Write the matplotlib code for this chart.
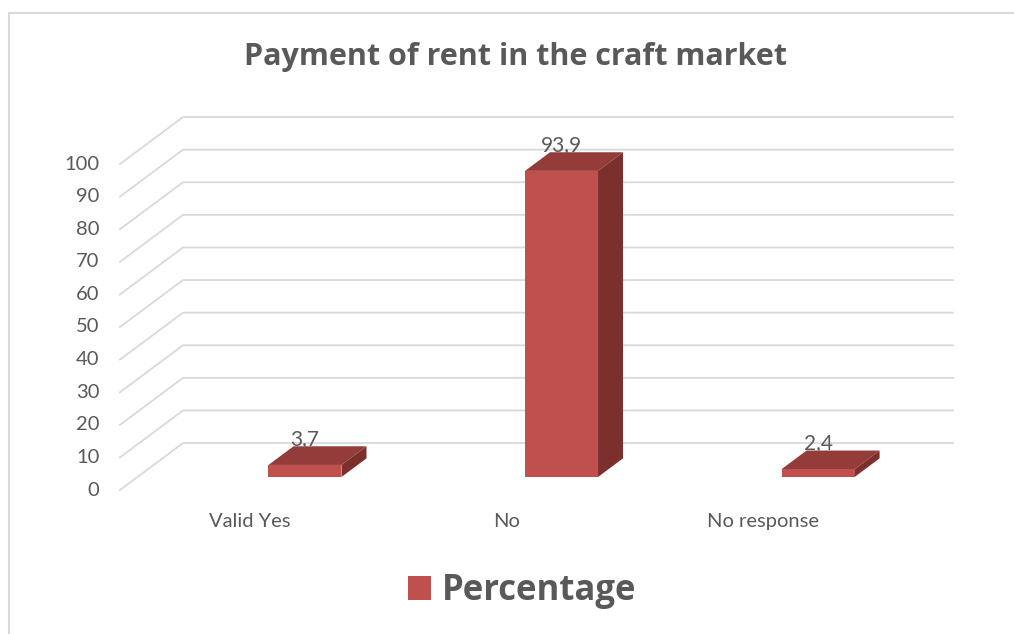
import matplotlib
matplotlib.use("Agg")
from matplotlib import pyplot as plt
from matplotlib.patches import Polygon, Patch
from matplotlib.lines import Line2D

categories = ["Valid Yes", "No", "No response"]
values = [3.7, 93.9, 2.4]
value_labels = ["3,7", "93,9", "2,4"]
yticks = [0, 10, 20, 30, 40, 50, 60, 70, 80, 90, 100]
series_name = "Percentage"

plt.rcParams["font.family"] = ["Lato", "DejaVu Sans"]

text_grey = "#595959"
grid_grey = "#d9d9d9"
front_col = "#c0504d"
top_col = "#943c39"
side_col = "#7c302e"

# oblique 3d: full depth shift in data units
DX, DY = 0.2456, 14.4
# bar sits between these depths, half width in category units
d0, d1 = 0.277, 0.674
hw = 0.1423
xl, xr = -0.653, 2.594


def proj(x, v, d):
    return (x + d * DX, v + d * DY)


fig = plt.figure(figsize=(10.14, 6.34), dpi=100)
ax = fig.add_axes([120 / 1014, 1 - 490 / 634, 833 / 1014, 374.9 / 634])
ax.set_xlim(xl, xr)
ax.set_ylim(0, 115)
ax.axis("off")

# gridlines: front diagonal then back wall
for v in yticks:
    p0 = (xl, v)
    p1 = proj(xl, v, 1)
    ax.add_line(Line2D([p0[0], p1[0], xr], [p0[1], p1[1], p1[1]],
                       color=grid_grey, lw=1.3, clip_on=False, zorder=1))
    ax.text(xl - 0.08, v, str(v), ha="right", va="center", fontsize=14.5,
            color=text_grey, clip_on=False)

for i, (v, lab) in enumerate(zip(values, value_labels)):
    x0, x1 = i - hw, i + hw
    fa = proj(x0, 0, d0)
    fb = proj(x1, 0, d0)
    fc = proj(x1, v, d0)
    fd = proj(x0, v, d0)
    bc = proj(x1, v, d1)
    bd = proj(x0, v, d1)
    bb = proj(x1, 0, d1)
    ax.add_patch(Polygon([fd, fc, bc, bd], closed=True, fc=top_col, ec="none", zorder=3))
    ax.add_patch(Polygon([fb, bb, bc, fc], closed=True, fc=side_col, ec="none", zorder=3))
    ax.add_patch(Polygon([fa, fb, fc, fd], closed=True, fc=front_col, ec="none", zorder=4))
    lx, ly = proj(i, v, d1)
    ax.annotate(lab, xy=(lx - (d1 - d0) * DX, ly), xytext=(0, 5),
                textcoords="offset points", ha="center", va="center",
                fontsize=15, color=text_grey, zorder=5)
    ax.text(i - 0.147, -9.8, categories[i], ha="center", va="center",
            fontsize=14.5, color=text_grey, clip_on=False)

fig.text(515 / 1014, 1 - 57 / 634, "Payment of rent in the craft market",
         ha="center", va="center", fontsize=22, fontweight="bold",
         family=["Open Sans", "DejaVu Sans"], color=text_grey)

fig.legend(handles=[Patch(fc=front_col, ec="none", label=series_name)],
           loc="center", bbox_to_anchor=(522 / 1014, 1 - 591 / 634),
           frameon=False, handlelength=0.68, handleheight=0.68,
           handletextpad=0.3,
           prop={"weight": "bold", "size": 25, "family": ["Open Sans", "DejaVu Sans"]},
           labelcolor=text_grey)

# chart border (top and left visible)
fig.add_artist(Line2D([8.5 / 1014, 8.5 / 1014, 1.0], [0.0, 1 - 12.5 / 634, 1 - 12.5 / 634],
                      color=grid_grey, lw=1.5, transform=fig.transFigure))

fig.savefig("out.png", dpi=100)
